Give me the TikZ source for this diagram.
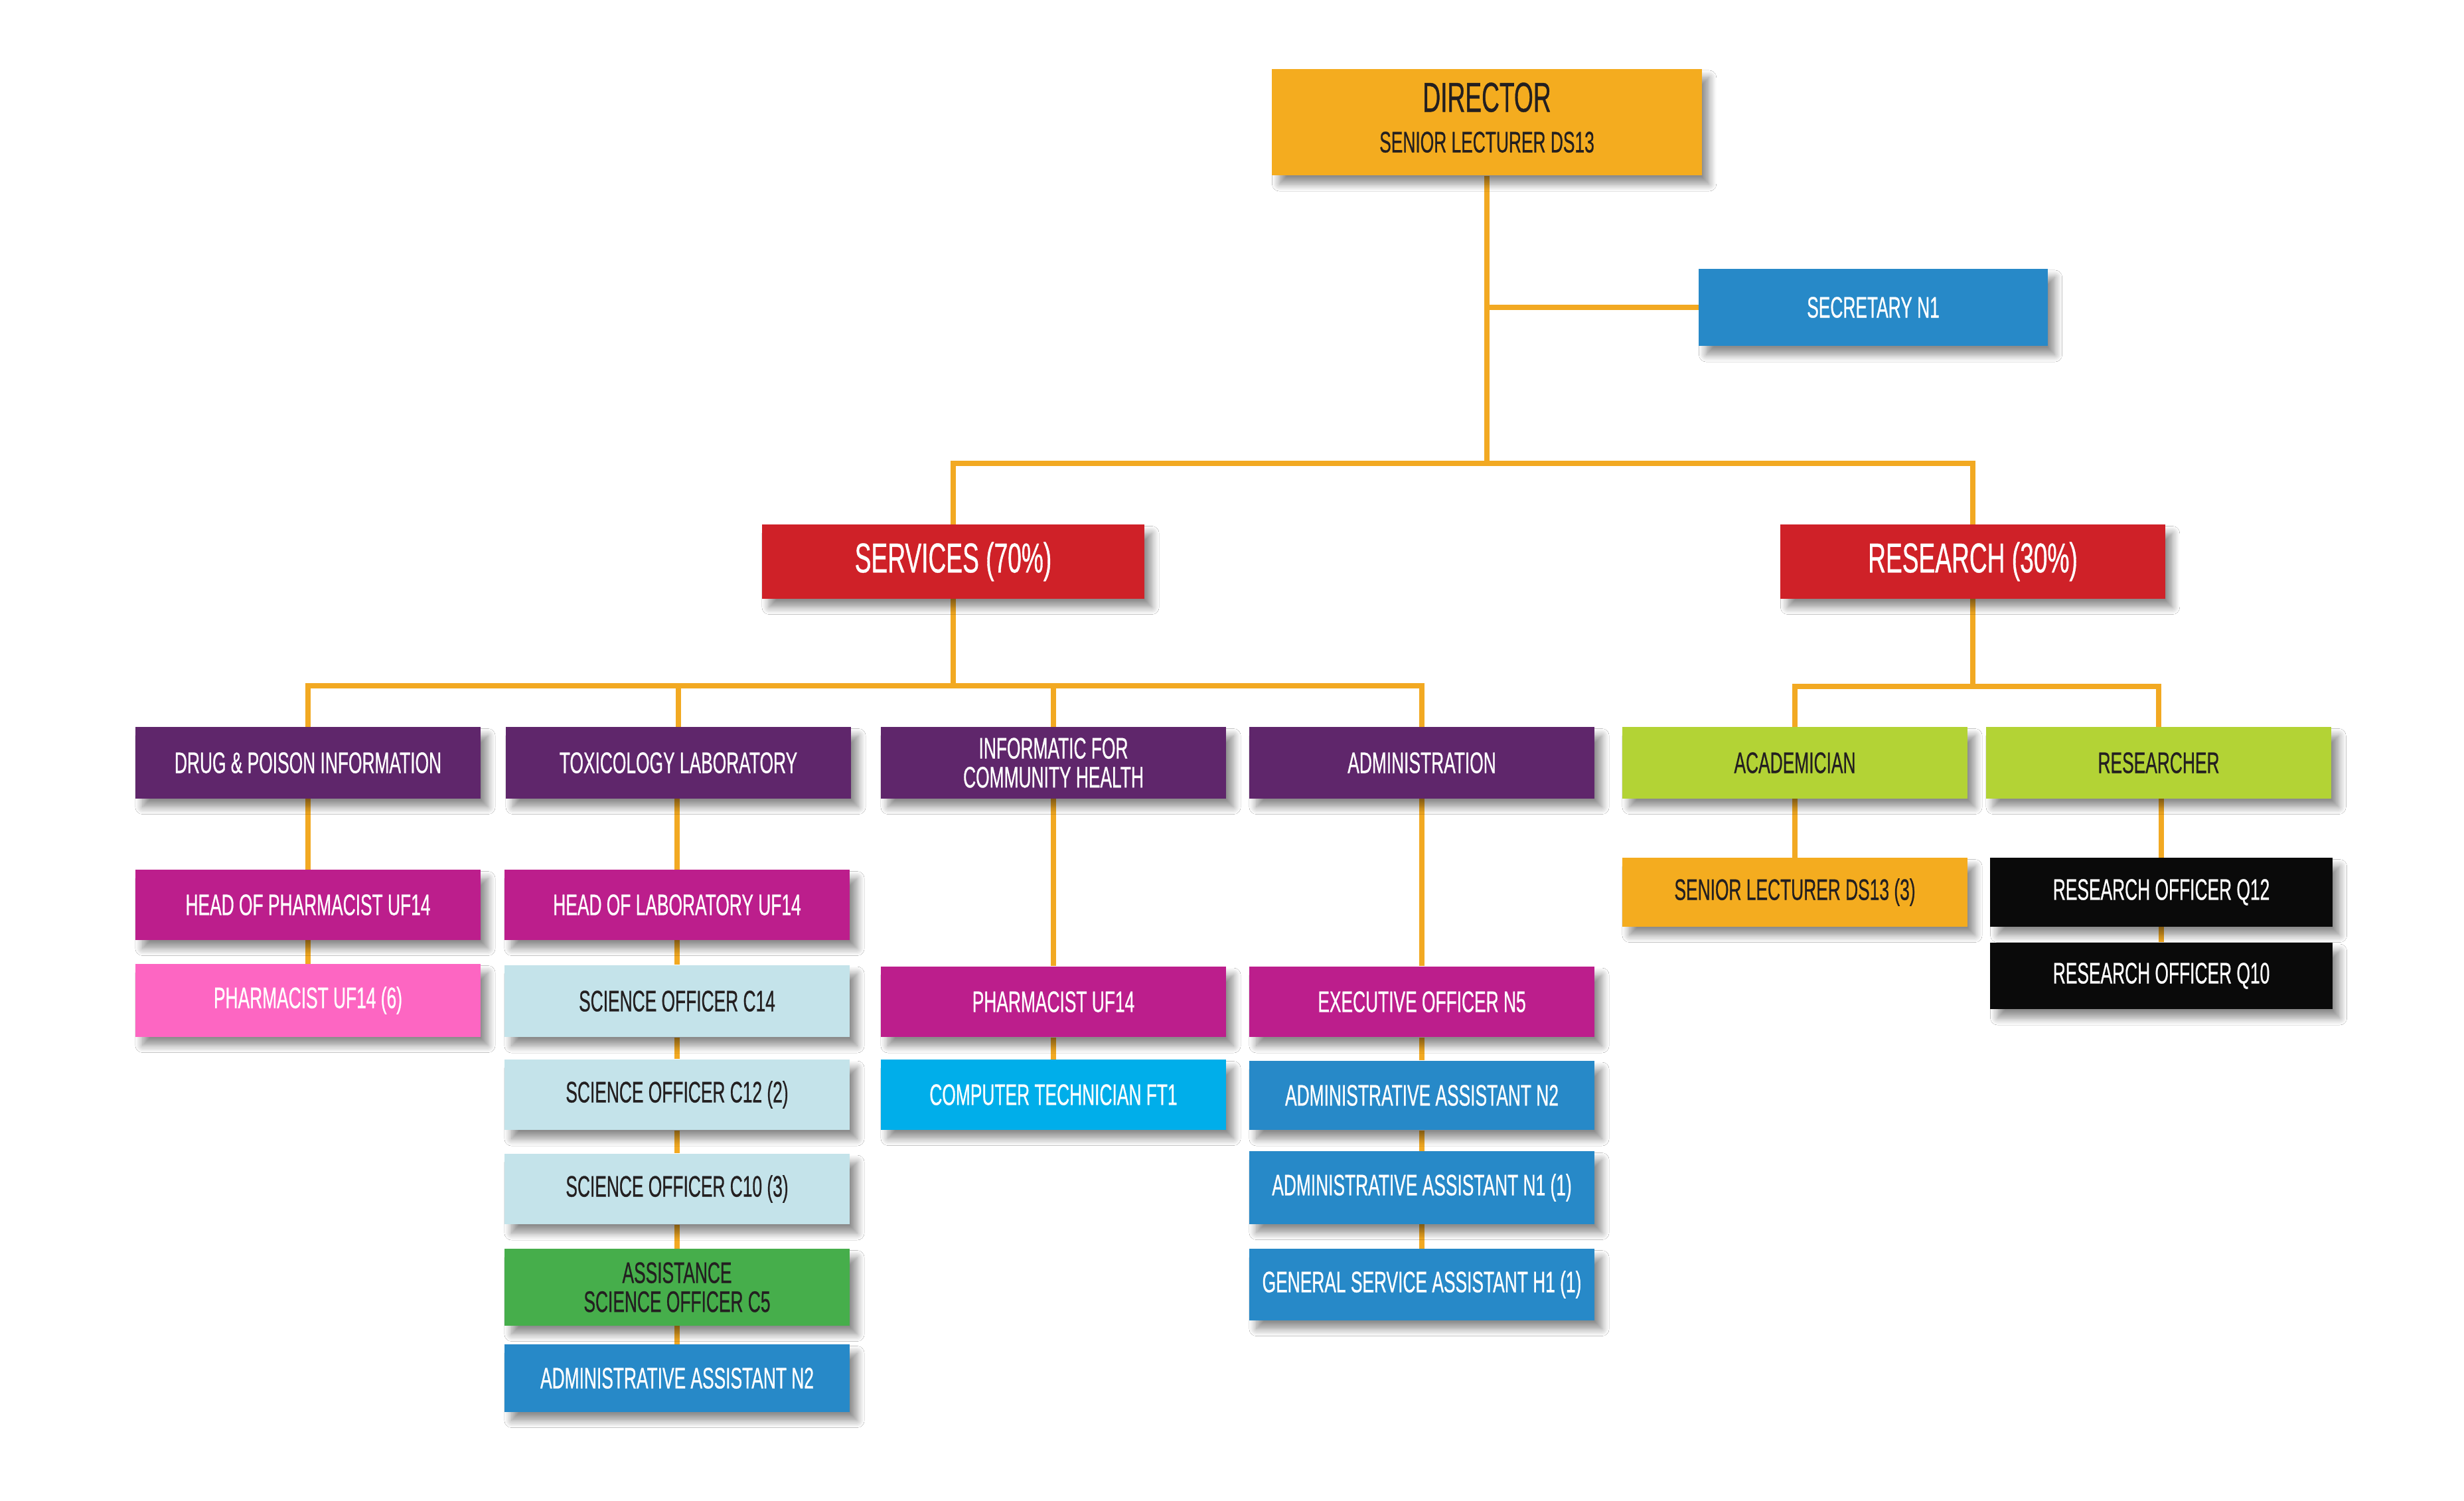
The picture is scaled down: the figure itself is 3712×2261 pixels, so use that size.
\documentclass[tikz,border=0pt]{standalone}
\usepackage{fontspec}
\setmainfont[FakeStretch=0.59,FakeBold=0.6]{Liberation Sans}
\usetikzlibrary{shadows.blur,backgrounds}
\definecolor{cOrange}{HTML}{F4AC1F}
\definecolor{cLink}{HTML}{F2A922}
\definecolor{cRed}{HTML}{CF2128}
\definecolor{cPurple}{HTML}{5F266B}
\definecolor{cMagenta}{HTML}{BC1E8C}
\definecolor{cPink}{HTML}{FD66C2}
\definecolor{cLightBlue}{HTML}{C4E3EA}
\definecolor{cGreen}{HTML}{46AE4B}
\definecolor{cBlue}{HTML}{2789C8}
\definecolor{cCyan}{HTML}{00AEEA}
\definecolor{cLime}{HTML}{B3D335}
\definecolor{cBlack}{HTML}{0A0A0A}
\definecolor{cText}{HTML}{231F20}
\begin{document}
\begin{tikzpicture}[x=0.01cm,y=-0.01cm,
  box/.style={rectangle, inner sep=0pt, minimum width=5.2cm, minimum height=1.06cm,
    text=white, align=center, font=\fontsize{12.7}{12.4}\selectfont,
    blur shadow={shadow xshift=0.11cm, shadow yshift=-0.13cm, shadow blur radius=0.11cm,
      shadow opacity=45, shadow blur steps=10}},
  bigbox/.style={box, minimum height=1.11cm, font=\fontsize{17.9}{18}\selectfont},
  dark/.style={text=cText},
  link/.style={draw=cLink, line width=2.2pt}]
\useasboundingbox (0,0) rectangle (3712,2261);

% top
\node[box, fill=cOrange, dark, minimum width=6.47cm, minimum height=1.6cm,
  font=\fontsize{12.7}{17.4}\selectfont] (dir) at (2240,184)
  {{\fontsize{17.9}{17.4}\selectfont DIRECTOR}\\SENIOR LECTURER DS13\rule[-4pt]{0pt}{1pt}};
\node[box, fill=cBlue, minimum width=5.25cm, minimum height=1.16cm] (sec) at (2822,463) {SECRETARY N1};

% level 1
\node[bigbox, fill=cRed, minimum width=5.76cm] (serv) at (1436,846) {SERVICES (70\%)};
\node[bigbox, fill=cRed, minimum width=5.79cm] (res) at (2972,846) {RESEARCH (30\%)};

% level 2
\node[box, fill=cPurple, minimum height=1.07cm] (drug) at (464,1149) {DRUG \& POISON INFORMATION};
\node[box, fill=cPurple, minimum height=1.07cm] (tox) at (1022,1149) {TOXICOLOGY LABORATORY};
\node[box, fill=cPurple, minimum height=1.07cm] (inf) at (1587,1149) {INFORMATIC FOR\\COMMUNITY HEALTH};
\node[box, fill=cPurple, minimum height=1.07cm] (adm) at (2142,1149) {ADMINISTRATION};
\node[box, fill=cLime, dark, minimum height=1.07cm] (aca) at (2704,1149) {ACADEMICIAN};
\node[box, fill=cLime, dark, minimum height=1.07cm] (rsr) at (3252,1149) {RESEARCHER};

% drug column
\node[box, fill=cMagenta, minimum height=1.05cm] (hph) at (464,1363) {HEAD OF PHARMACIST UF14};
\node[box, fill=cPink, minimum height=1.09cm] (ph6) at (464,1507) {PHARMACIST UF14 (6)};

% toxicology column
\node[box, fill=cMagenta, minimum height=1.05cm] (hlab) at (1020,1363) {HEAD OF LABORATORY UF14};
\node[box, fill=cLightBlue, dark, minimum height=1.08cm] (sc14) at (1020,1508) {SCIENCE OFFICER C14};
\node[box, fill=cLightBlue, dark] (sc12) at (1020,1649) {SCIENCE OFFICER C12 (2)};
\node[box, fill=cLightBlue, dark] (sc10) at (1020,1791) {SCIENCE OFFICER C10 (3)};
\node[box, fill=cGreen, dark, minimum height=1.15cm] (asc5) at (1020,1939) {ASSISTANCE\\SCIENCE OFFICER C5};
\node[box, fill=cBlue, minimum height=1.01cm] (aan2t) at (1020,2076) {ADMINISTRATIVE ASSISTANT N2};

% informatic column
\node[box, fill=cMagenta] (phuf) at (1587,1509) {PHARMACIST UF14};
\node[box, fill=cCyan, minimum height=1.05cm] (comp) at (1587,1649) {COMPUTER TECHNICIAN FT1};

% administration column
\node[box, fill=cMagenta] (exo) at (2142,1509) {EXECUTIVE OFFICER N5};
\node[box, fill=cBlue, minimum height=1.04cm] (aan2) at (2142,1650) {ADMINISTRATIVE ASSISTANT N2};
\node[box, fill=cBlue, minimum height=1.09cm] (aan1) at (2142,1789) {ADMINISTRATIVE ASSISTANT N1 (1)};
\node[box, fill=cBlue, minimum height=1.07cm] (gsa) at (2142,1935) {GENERAL SERVICE ASSISTANT H1 (1)};

% research columns
\node[box, fill=cOrange, dark, minimum height=1.03cm] (sl3) at (2704,1344) {SENIOR LECTURER DS13 (3)};
\node[box, fill=cBlack, minimum width=5.15cm, minimum height=1.03cm] (q12) at (3256,1344) {RESEARCH OFFICER Q12};
\node[box, fill=cBlack, minimum width=5.15cm, minimum height=1.0cm] (q10) at (3256,1470) {RESEARCH OFFICER Q10};

\coordinate (b1) at (2240,698);
\coordinate (b2) at (1436,1033);
\coordinate (b3) at (2972,1034);

\begin{pgfonlayer}{background}
\fill[white] (0,0) rectangle (3712,2261);
\draw[link] (dir.south) -- (b1);
\draw[link] (sec.west) -- (sec.west -| dir.south);
\draw[link] (serv.north) |- (b1) -| (res.north);
\draw[link] (serv.south) -- (b2);
\draw[link] (drug.north) |- (b2) -| (adm.north);
\draw[link] (tox.north) -- (tox.north |- b2);
\draw[link] (inf.north) -- (inf.north |- b2);
\draw[link] (res.south) -- (b3);
\draw[link] (aca.north) |- (b3) -| (rsr.north);
\draw[link] (drug.south) -- (hph.north);
\draw[link] (hph.south) -- (ph6.north);
\draw[link] (hlab.north) -- (hlab.north |- tox.south);
\draw[link] (hlab.south) -- (sc14.north);
\draw[link] (sc14.south) -- (sc12.north);
\draw[link] (sc12.south) -- (sc10.north);
\draw[link] (sc10.south) -- (asc5.north);
\draw[link] (asc5.south) -- (aan2t.north);
\draw[link] (inf.south) -- (phuf.north);
\draw[link] (phuf.south) -- (comp.north);
\draw[link] (adm.south) -- (exo.north);
\draw[link] (exo.south) -- (aan2.north);
\draw[link] (aan2.south) -- (aan1.north);
\draw[link] (aan1.south) -- (gsa.north);
\draw[link] (aca.south) -- (sl3.north);
\draw[link] (q12.north) -- (q12.north |- rsr.south);
\draw[link] (q12.south) -- (q10.north);
\end{pgfonlayer}
\end{tikzpicture}
\end{document}
